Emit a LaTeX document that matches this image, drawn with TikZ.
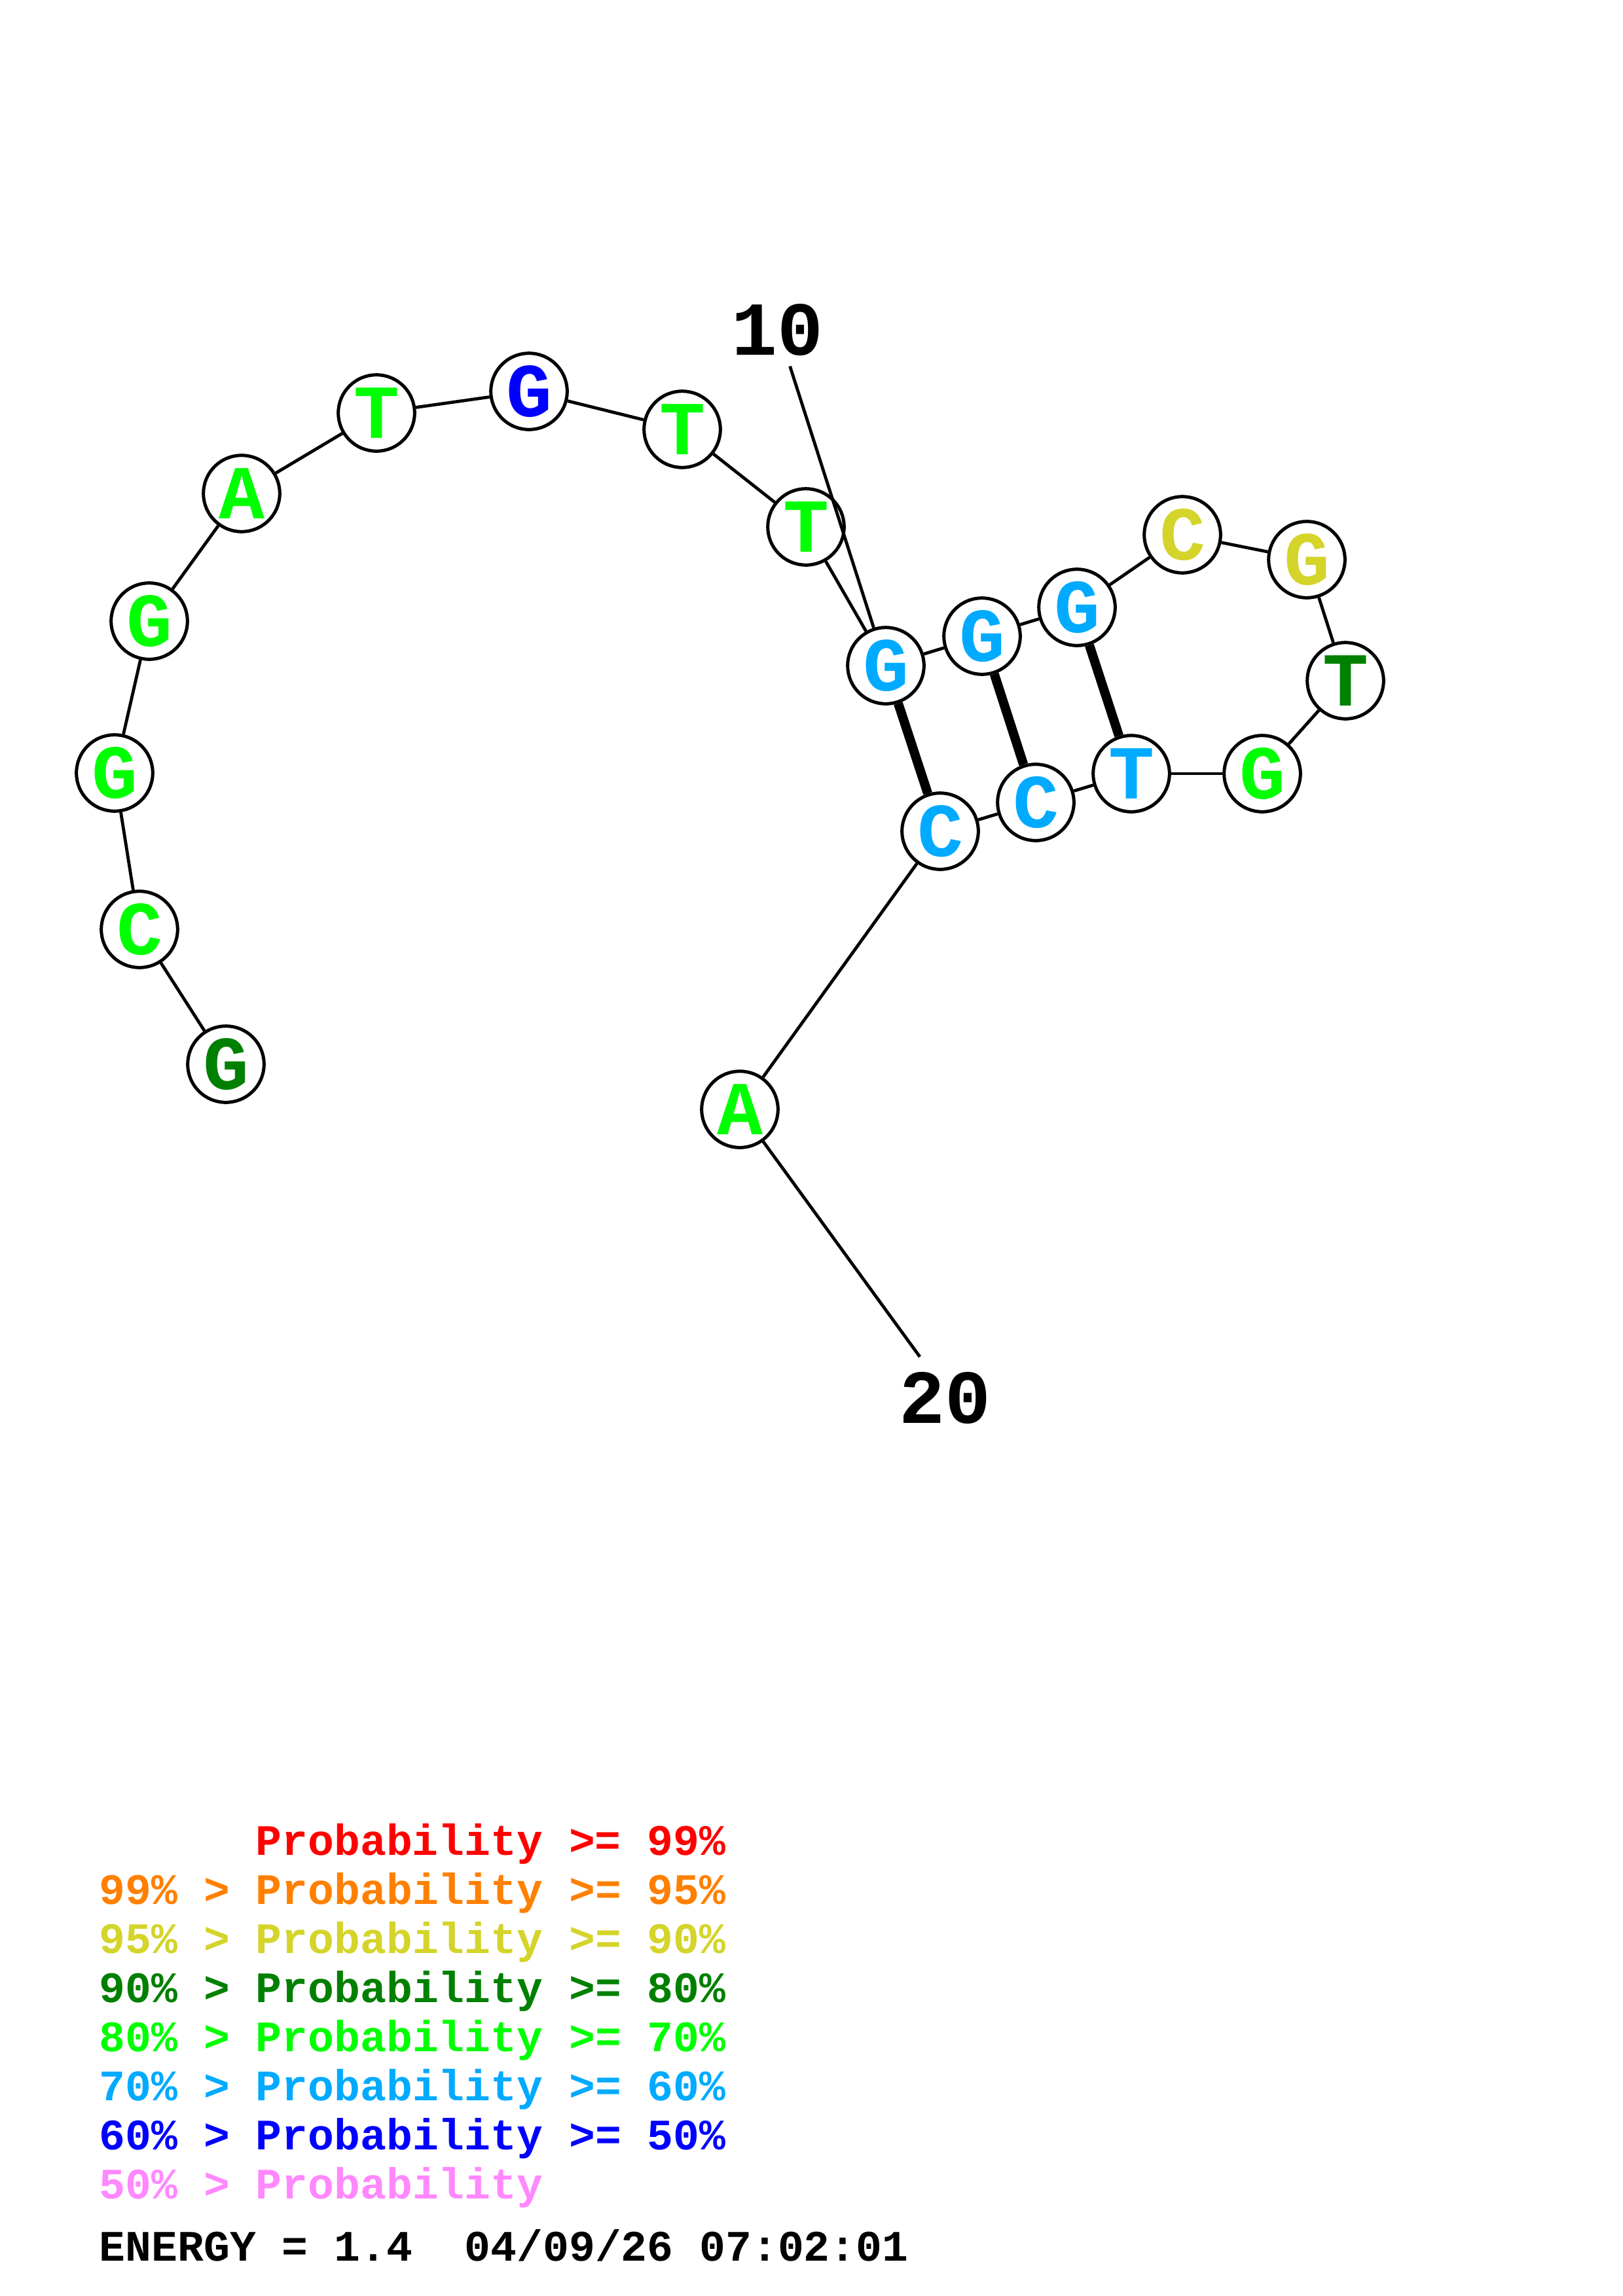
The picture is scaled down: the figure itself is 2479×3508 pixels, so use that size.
\documentclass[tikz,border=0pt]{standalone}
\usepackage{fontspec}
\newfontfamily\cour{Liberation Mono}
\definecolor{cred}{RGB}{255,0,0}
\definecolor{corange}{RGB}{255,128,0}
\definecolor{cyellow}{RGB}{212,212,42}
\definecolor{cdkgreen}{RGB}{0,128,0}
\definecolor{cgreen}{RGB}{0,255,0}
\definecolor{ccyan}{RGB}{0,170,255}
\definecolor{cblue}{RGB}{0,0,255}
\definecolor{cpink}{RGB}{255,136,255}
\tikzset{
  base/.style={circle,draw=black,fill=white,line width=1.2pt,minimum size=28pt,inner sep=0pt,
    font=\cour\bfseries\fontsize{28}{28}\selectfont},
  bb/.style={line width=1.15pt},
  pairline/.style={line width=3.4pt},
  numlab/.style={inner sep=0pt,font=\cour\bfseries\fontsize{28}{28}\selectfont},
  legend/.style={inner sep=0pt,anchor=base west,font=\cour\bfseries\fontsize{15.95}{15.95}\selectfont}
}
\begin{document}
\begin{tikzpicture}[x=0.24013pt,y=-0.24013pt]
\useasboundingbox (0,0) rectangle (2479,3508);
\fill[white] (0,0) rectangle (2479,3508);
% nodes
\node[base,text=cdkgreen] (n1) at (345,1626) {G};
\node[base,text=cgreen] (n2) at (213,1420) {C};
\node[base,text=cgreen] (n3) at (175,1181) {G};
\node[base,text=cgreen] (n4) at (228,949) {G};
\node[base,text=cgreen] (n5) at (369,754) {A};
\node[base,text=cgreen] (n6) at (575,631) {T};
\node[base,text=cblue] (n7) at (808,598) {G};
\node[base,text=cgreen] (n8) at (1042,656) {T};
\node[base,text=cgreen] (n9) at (1231,805) {T};
\node[base,text=ccyan] (n10) at (1353,1017) {G};
\node[base,text=ccyan] (n11) at (1500,972) {G};
\node[base,text=ccyan] (n12) at (1645,928) {G};
\node[base,text=cyellow] (n13) at (1806,817) {C};
\node[base,text=cyellow] (n14) at (1996,855) {G};
\node[base,text=cdkgreen] (n15) at (2055,1040) {T};
\node[base,text=cgreen] (n16) at (1928,1182) {G};
\node[base,text=ccyan] (n17) at (1728,1182) {T};
\node[base,text=ccyan] (n18) at (1582,1226) {C};
\node[base,text=ccyan] (n19) at (1436,1270) {C};
\node[base,text=cgreen] (n20) at (1130,1695) {A};
% backbone
\foreach \a/\b in {1/2,2/3,3/4,4/5,5/6,6/7,7/8,8/9,9/10,10/11,11/12,12/13,13/14,14/15,15/16,16/17,17/18,18/19,19/20}
  \draw[bb] (n\a) -- (n\b);
% pairs
\draw[pairline] (n10) -- (n19);
\draw[pairline] (n11) -- (n18);
\draw[pairline] (n12) -- (n17);
% number labels
\coordinate (l10) at (1206.6,559.6);
\coordinate (l20) at (1405,2073);
\draw[bb] (l10) -- (n10);
\draw[bb] (l20) -- (n20);
\node[numlab] (lab10) at (1187,504) {10};
\node[numlab] (lab20) at (1443,2136) {20};
% legend
\node[legend,text=cred] (leg1) at (390,2834) {Probability >= 99\%};
\node[legend,text=corange] (leg2) at (151,2909) {99\% > Probability >= 95\%};
\node[legend,text=cyellow] (leg3) at (151,2984) {95\% > Probability >= 90\%};
\node[legend,text=cdkgreen] (leg4) at (151,3059) {90\% > Probability >= 80\%};
\node[legend,text=cgreen] (leg5) at (151,3134) {80\% > Probability >= 70\%};
\node[legend,text=ccyan] (leg6) at (151,3209) {70\% > Probability >= 60\%};
\node[legend,text=cblue] (leg7) at (151,3284) {60\% > Probability >= 50\%};
\node[legend,text=cpink] (leg8) at (151,3359) {50\% > Probability};
\node[legend,text=black] (energy) at (151,3454) {ENERGY = 1.4\ \ 04/09/26 07:02:01};
\end{tikzpicture}
\end{document}
